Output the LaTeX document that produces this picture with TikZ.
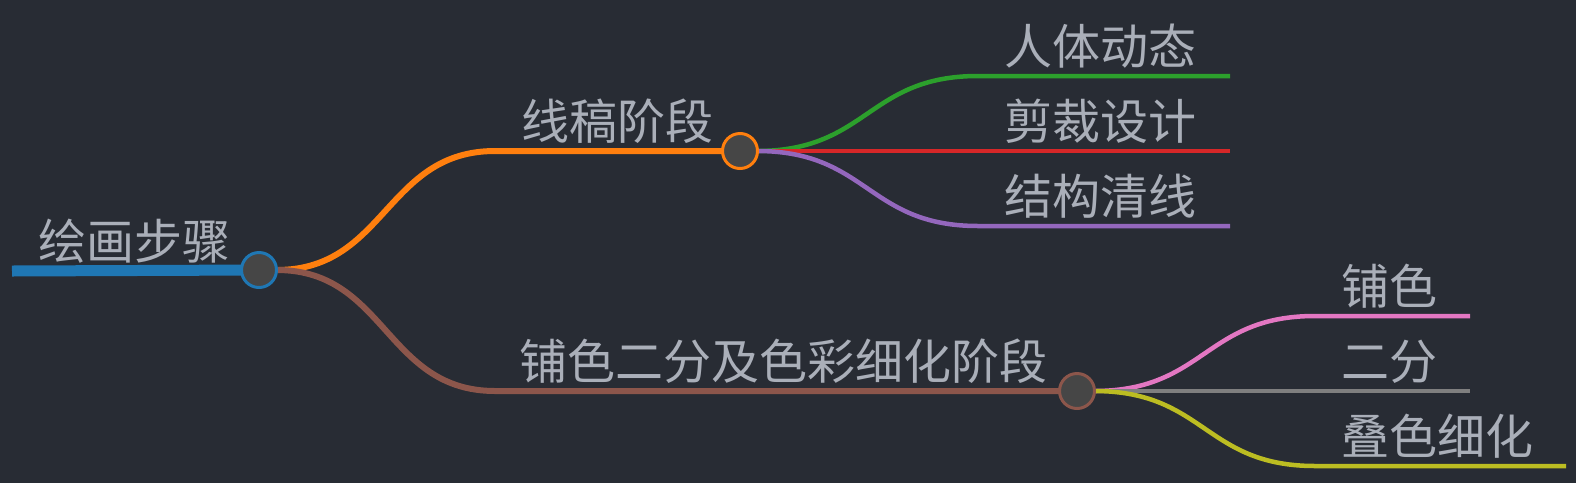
\documentclass[tikz,border=0pt]{standalone}
\usepackage{fontspec}
\newfontfamily\cjk{Noto Sans CJK SC}
\pgfdeclarelayer{links}
\pgfsetlayers{links,main}
\definecolor{bgc}{RGB}{40,44,52}
\definecolor{txt}{RGB}{170,175,185}
\definecolor{cfill}{RGB}{70,70,70}
\definecolor{cblue}{HTML}{1F77B4}
\definecolor{corange}{HTML}{FF7F0E}
\definecolor{cgreen}{HTML}{2CA02C}
\definecolor{cred}{HTML}{D62728}
\definecolor{cpurple}{HTML}{9467BD}
\definecolor{cbrown}{HTML}{8C564B}
\definecolor{cpink}{HTML}{E377C2}
\definecolor{cgray}{HTML}{7F7F7F}
\definecolor{colive}{HTML}{BCBD22}
\tikzset{
  lbl/.style={anchor=base west, inner sep=0pt, text=txt, font=\cjk\fontsize{48}{58}\selectfont},
  dot/.style={circle, draw=#1, fill=cfill, line width=3pt, minimum size=35pt, inner sep=0pt},
  lk/.style={draw=#1, line width=4.5pt},
  lkb/.style={draw=#1, line width=6pt},
}
\begin{document}
\begin{tikzpicture}[x=1pt,y=-1pt]
\begin{pgfonlayer}{links}
\fill[bgc] (0,0) rectangle (1576,483);
\end{pgfonlayer}
\useasboundingbox (0,0) rectangle (1576,483);
% coordinates
\coordinate (r0) at (12,271);
\coordinate (o0) at (495,151);
\coordinate (b0) at (495,391);
\coordinate (g0) at (978,76);
\coordinate (g1) at (1230,76);
\coordinate (d1) at (1230,151);
\coordinate (p0) at (978,226);
\coordinate (p1) at (1230,226);
\coordinate (k0) at (1315,316);
\coordinate (k1) at (1470,316);
\coordinate (y1) at (1470,391);
\coordinate (v0) at (1315,466);
\coordinate (v1) at (1566,466);
% circle nodes
\node[dot=cblue] (rc) at (259,270) {};
\node[dot=corange] (oc) at (740,151) {};
\node[dot=cbrown] (bc) at (1077,391) {};
% links (behind circles)
\begin{pgfonlayer}{links}
\draw[draw=cblue, line width=11pt] (r0) -- (rc.center);
\draw[lkb=corange] (rc.east) .. controls (386,269) and (386,151) .. (o0) -- (oc.center);
\draw[lkb=cbrown] (rc.east) .. controls (386,271) and (386,391) .. (b0) -- (bc.center);
\draw[lk=cgreen] (oc.east) .. controls (868,150) and (868,76) .. (g0) -- (g1);
\draw[lk=cred] (oc.east) -- (d1);
\draw[lk=cpurple] (oc.east) .. controls (868,152) and (868,226) .. (p0) -- (p1);
\draw[lk=cpink] (bc.east) .. controls (1205,390) and (1205,316) .. (k0) -- (k1);
\draw[lk=cgray] (bc.east) -- (y1);
\draw[lk=colive] (bc.east) .. controls (1205,392) and (1205,466) .. (v0) -- (v1);
\end{pgfonlayer}
% labels
\node[lbl] (t0) at (38,259.5) {绘画步骤};
\node[lbl] (t1) at (521,139.5) {线稿阶段};
\node[lbl] (t2) at (519,379.5) {铺色二分及色彩细化阶段};
\node[lbl] (t11) at (1004,64.5) {人体动态};
\node[lbl] (t12) at (1004,139.5) {剪裁设计};
\node[lbl] (t13) at (1004,214.5) {结构清线};
\node[lbl] (t21) at (1341,304.5) {铺色};
\node[lbl] (t22) at (1341,379.5) {二分};
\node[lbl] (t23) at (1341,454.5) {叠色细化};
\end{tikzpicture}
\end{document}
